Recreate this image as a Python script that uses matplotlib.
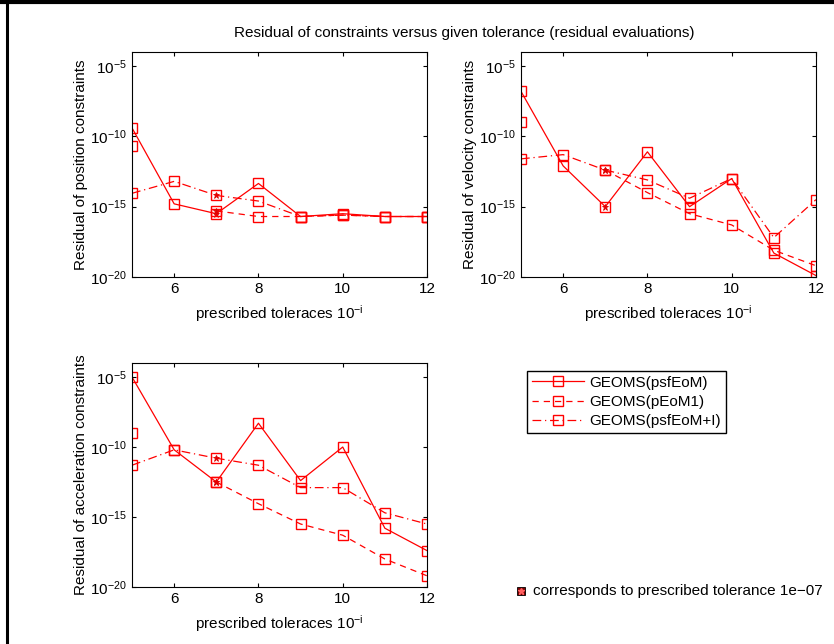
import numpy as np
import matplotlib
matplotlib.use('Agg')
from matplotlib import pyplot as plt
from matplotlib.lines import Line2D

plt.rcParams['font.family'] = ['Liberation Sans', 'DejaVu Sans']
plt.rcParams['font.size'] = 11

tol = [5, 6, 7, 8, 9, 10, 11, 12]
mark_tol = 7

# log10 of the residuals (nan = no value)
pos_psf = [-9.4, -14.8, -15.5, -13.35, -15.7, -15.5, -15.7, -15.7]
pos_p1 = [-10.7, np.nan, -15.3, -15.7, -15.7, -15.6, -15.7, -15.7]
pos_psfi = [-14.05, -13.2, -14.2, -14.6, -15.7, -15.6, -15.7, -15.7]

vel_psf = [-6.8, -12.1, -15.0, -11.1, -15.0, -13.0, -18.3, -19.9]
vel_p1 = [-8.96, np.nan, -12.4, -14.0, -15.5, -16.3, -18.1, -19.2]
vel_psfi = [-11.6, -11.3, -12.4, -13.1, -14.4, -13.0, -17.2, -14.5]

acc_psf = [-5.0, -10.2, -12.5, -8.3, -12.4, -10.0, -15.8, -17.4]
acc_p1 = [-9.0, np.nan, -12.5, -14.05, -15.5, -16.3, -18.0, -19.2]
acc_psfi = [-11.3, -10.2, -10.8, -11.3, -12.9, -12.9, -14.7, -15.5]

names = ['GEOMS(psfEoM)', 'GEOMS(pEoM1)', 'GEOMS(psfEoM+I)']
styles = ['-', (0, (5, 4)), (0, (7, 3, 1, 3))]
ylabels = ['Residual of position constraints',
           'Residual of velocity constraints',
           'Residual of acceleration constraints']
panels = [(pos_psf, pos_p1, pos_psfi),
          (vel_psf, vel_p1, vel_psfi),
          (acc_psf, acc_p1, acc_psfi)]

fig = plt.figure(figsize=(8.34, 6.44), dpi=100)
rects = [[0.1583, 0.5699, 0.3537, 0.3494],
         [0.6247, 0.5699, 0.3537, 0.3494],
         [0.1583, 0.0885, 0.3537, 0.3478]]

x = np.array(tol)
k = tol.index(mark_tol)
for rect, data, ylab in zip(rects, panels, ylabels):
    ax = fig.add_axes(rect)
    for vals, ls, nm in zip(data, styles, names):
        y = 10.0 ** np.array(vals)
        ax.semilogy(x, y, color='#ff0000', linestyle=ls, lw=0.9, marker='s',
                    ms=7, mfc='none', mec='#ff0000', mew=1.0, label=nm)
        ax.semilogy([x[k]], [y[k]], linestyle='none', marker='*', ms=5,
                    color='#e00000', mew=0.6)
    ax.set_xlim(5, 12)
    ax.set_ylim(1e-20, 1e-4)
    ax.set_yticks([1e-5, 1e-10, 1e-15, 1e-20])
    ax.yaxis.set_minor_locator(matplotlib.ticker.NullLocator())
    ax.set_xticks([6, 8, 10, 12])
    ax.tick_params(direction='in', top=True, right=True, length=3, labelsize=11)
    ax.set_xlabel('prescribed toleraces $\\mathregular{10^{-i}}$', fontsize=11,
                  labelpad=5)
    ax.set_ylabel(ylab, fontsize=11, labelpad=2)

handles = [Line2D([], [], color='#ff0000', linestyle=ls, lw=0.9, marker='s',
                  ms=7, mfc='none', mec='#ff0000', mew=1.0) for ls in styles]
fig.legend(handles, names, loc='upper left', bbox_to_anchor=(0.632, 0.424),
           fancybox=False, edgecolor='black', framealpha=1, fontsize=11,
           borderpad=0.3, labelspacing=0.35, handlelength=3.4, handletextpad=0.4,
           borderaxespad=0)

fig.add_artist(Line2D([0.625], [0.0825], marker='s', ms=6, mfc='#7a0000',
                      mec='black', mew=0.6, linestyle='none',
                      transform=fig.transFigure))
fig.add_artist(Line2D([0.625], [0.0825], marker='*', ms=5, color='#ff6060',
                      linestyle='none', transform=fig.transFigure))
fig.text(0.639, 0.0825, 'corresponds to prescribed tolerance 1e\u221207',
         va='center', ha='left', fontsize=11)

fig.text(0.557, 0.949, 'Residual of constraints versus given tolerance (residual evaluations)',
         ha='center', va='center', fontsize=11)

# dark frame along top and left edge of the screenshot
fig.add_artist(Line2D([0, 1], [0.997, 0.997], color='black', lw=3,
                      transform=fig.transFigure))
fig.add_artist(Line2D([0.0085, 0.0085], [0, 1], color='black', lw=2.2,
                      transform=fig.transFigure))

fig.savefig('out.png', dpi=100)
